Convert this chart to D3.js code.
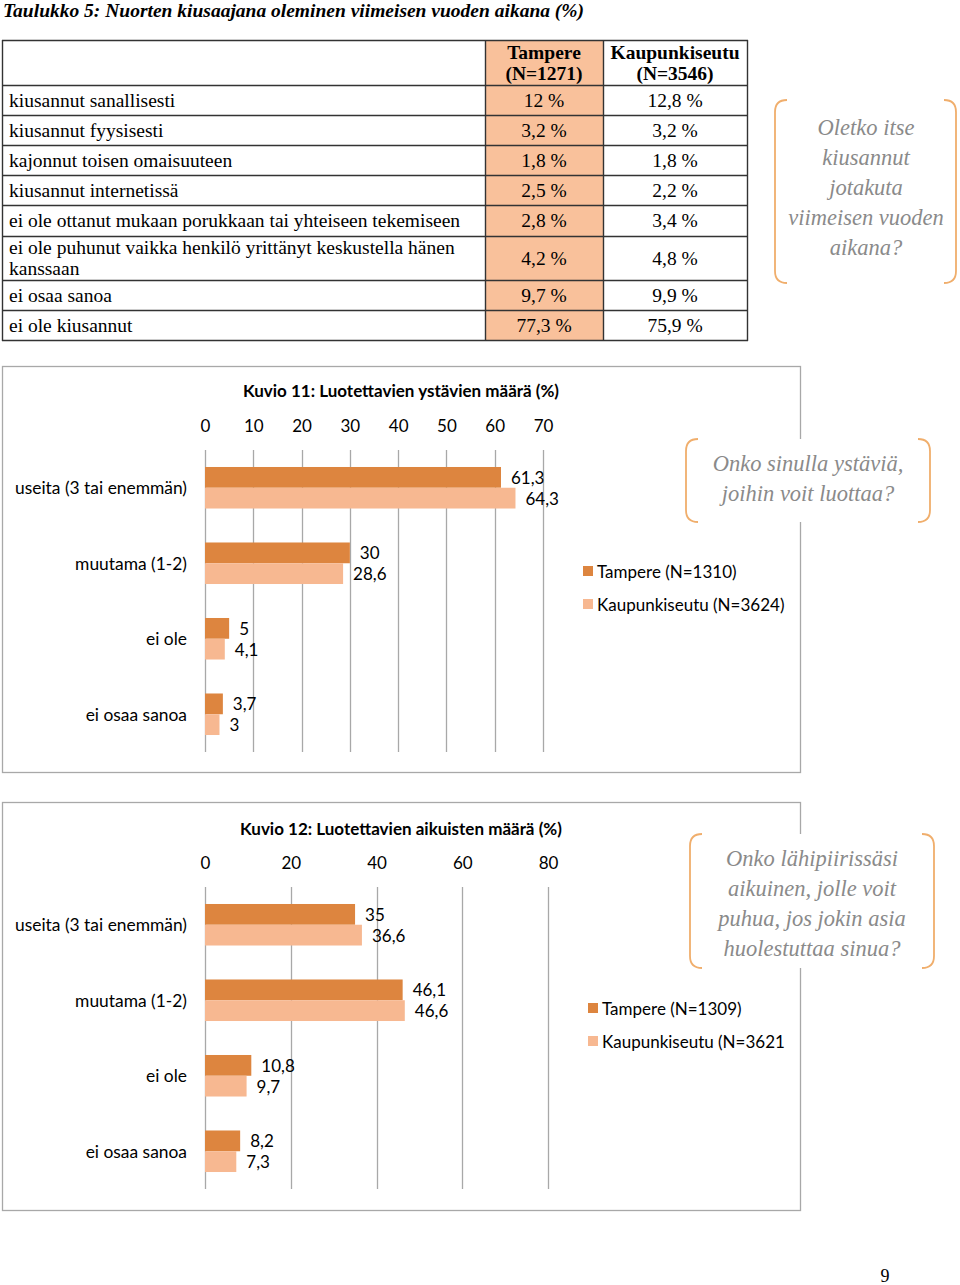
<!DOCTYPE html>
<html><head><meta charset="utf-8">
<script src="https://cdn.jsdelivr.net/npm/d3@7"></script>
<style>body{margin:0;background:#fff}svg{display:block}</style>
</head><body><svg id="c" width="960" height="1285"></svg>
<script>
// ---------- DATA ----------
const tableTitle = "Taulukko 5: Nuorten kiusaajana oleminen viimeisen vuoden aikana (%)";
const tableHeaders = [["Tampere", "(N=1271)"], ["Kaupunkiseutu", "(N=3546)"]];
const tableRows = [
  ["kiusannut sanallisesti"],
  ["kiusannut fyysisesti"],
  ["kajonnut toisen omaisuuteen"],
  ["kiusannut internetissä"],
  ["ei ole ottanut mukaan porukkaan tai yhteiseen tekemiseen"],
  ["ei ole puhunut vaikka henkilö yrittänyt keskustella hänen", "kanssaan"],
  ["ei osaa sanoa"],
  ["ei ole kiusannut"]
];
const tableTampere = ["12 %", "3,2 %", "1,8 %", "2,5 %", "2,8 %", "4,2 %", "9,7 %", "77,3 %"];
const tableKaupunkiseutu = ["12,8 %", "3,2 %", "1,8 %", "2,2 %", "3,4 %", "4,8 %", "9,9 %", "75,9 %"];
const callout1Lines = ["Oletko itse", "kiusannut", "jotakuta", "viimeisen vuoden", "aikana?"];

const chart1Title = "Kuvio 11: Luotettavien ystävien määrä (%)";
const chart1Categories = ["useita (3 tai enemmän)", "muutama (1-2)", "ei ole", "ei osaa sanoa"];
const chart1Tampere = [61.3, 30, 5, 3.7];
const chart1Kaupunkiseutu = [64.3, 28.6, 4.1, 3];
const chart1Ticks = [0, 10, 20, 30, 40, 50, 60, 70];
const chart1Legend = ["Tampere (N=1310)", "Kaupunkiseutu (N=3624)"];
const callout2Lines = ["Onko sinulla ystäviä,", "joihin voit luottaa?"];

const chart2Title = "Kuvio 12: Luotettavien aikuisten määrä (%)";
const chart2Categories = ["useita (3 tai enemmän)", "muutama (1-2)", "ei ole", "ei osaa sanoa"];
const chart2Tampere = [35, 46.1, 10.8, 8.2];
const chart2Kaupunkiseutu = [36.6, 46.6, 9.7, 7.3];
const chart2Ticks = [0, 20, 40, 60, 80];
const chart2Legend = ["Tampere (N=1309)", "Kaupunkiseutu (N=3621"];
const callout3Lines = ["Onko lähipiirissäsi", "aikuinen, jolle voit", "puhua, jos jokin asia", "huolestuttaa sinua?"];

const pageNumber = "9";

// ---------- STYLE ----------
const DARK = "#DD853F", LIGHT = "#F7B891", TABLE_FILL = "#F9C19B";
const BRACKET = "#F0AE6C", CALLOUT_TEXT = "#8A8A8A", GRID = "#A8A8A8";
const SERIF = "'Liberation Serif', 'Times New Roman', serif";
const SANS = "Lato, 'Open Sans', sans-serif";

const svg = d3.select("#c");
svg.append("rect").attr("width", 960).attr("height", 1285).attr("fill", "#fff");

// ---------- TABLE ----------
svg.append("text").attr("x", 3).attr("y", 17)
  .attr("font-family", SERIF).attr("font-style", "italic").attr("font-weight", "bold")
  .attr("font-size", 19.5).attr("fill", "#000").text(tableTitle);

const tX0 = 2, tX1 = 485, tX2 = 603, tX3 = 747;
const headerTop = 40, headerBottom = 85;
const rowHeights = tableRows.map(r => r.length > 1 ? 44 : 30);
rowHeights[4] = 31;
const rowEdges = [headerBottom];
rowHeights.forEach(h => rowEdges.push(rowEdges[rowEdges.length - 1] + h));
const tBottom = rowEdges[rowEdges.length - 1];
const TFS = 19.5;

const tg = svg.append("g");
tg.append("rect").attr("x", tX1).attr("y", headerTop).attr("width", tX2 - tX1).attr("height", tBottom - headerTop).attr("fill", TABLE_FILL);
[headerTop, ...rowEdges].forEach(y => {
  tg.append("line").attr("x1", tX0).attr("x2", tX3 + 1).attr("y1", y + 0.5).attr("y2", y + 0.5).attr("stroke", "#333").attr("stroke-width", 1.4);
});
[tX0, tX1, tX2, tX3].forEach(x => {
  tg.append("line").attr("x1", x + 0.5).attr("x2", x + 0.5).attr("y1", headerTop).attr("y2", tBottom + 1).attr("stroke", "#333").attr("stroke-width", 1.4);
});
const colCenters = [(tX1 + tX2) / 2, (tX2 + tX3) / 2];
tableHeaders.forEach((h, i) => {
  h.forEach((line, j) => {
    tg.append("text").attr("x", colCenters[i]).attr("y", 52 + j * 21).attr("text-anchor", "middle")
      .attr("dominant-baseline", "central").attr("font-family", SERIF).attr("font-weight", "bold")
      .attr("font-size", TFS).attr("fill", "#000").text(line);
  });
});
tableRows.forEach((r, i) => {
  const y0 = rowEdges[i], y1 = rowEdges[i + 1], cy = (y0 + y1) / 2;
  r.forEach((line, j) => {
    const ly = r.length > 1 ? y0 + 11 + j * 21 : cy;
    tg.append("text").attr("x", 9).attr("y", ly).attr("dominant-baseline", "central")
      .attr("font-family", SERIF).attr("font-size", TFS).attr("fill", "#000").text(line);
  });
  [tableTampere[i], tableKaupunkiseutu[i]].forEach((v, k) => {
    tg.append("text").attr("x", colCenters[k]).attr("y", cy).attr("text-anchor", "middle")
      .attr("dominant-baseline", "central").attr("font-family", SERIF).attr("font-size", TFS)
      .attr("fill", "#000").text(v);
  });
});

// ---------- CALLOUT ----------
function callout(x0, y0, x1, y1, lines, firstY, cx) {
  const g = svg.append("g");
  g.append("rect").attr("x", x0 - 2).attr("y", y0).attr("width", x1 - x0 + 4).attr("height", y1 - y0).attr("fill", "#fff");
  const r = 12;
  const left = `M${x0 + r},${y0} Q${x0},${y0} ${x0},${y0 + r} L${x0},${y1 - r} Q${x0},${y1} ${x0 + r},${y1}`;
  const right = `M${x1 - r},${y0} Q${x1},${y0} ${x1},${y0 + r} L${x1},${y1 - r} Q${x1},${y1} ${x1 - r},${y1}`;
  [left, right].forEach(d => g.append("path").attr("d", d).attr("fill", "none").attr("stroke", BRACKET).attr("stroke-width", 1.8));
  lines.forEach((l, i) => {
    g.append("text").attr("x", cx).attr("y", firstY + i * 30).attr("text-anchor", "middle")
      .attr("dominant-baseline", "central").attr("font-family", SERIF).attr("font-style", "italic")
      .attr("font-size", 22.5).attr("fill", CALLOUT_TEXT).text(l);
  });
}

// ---------- BAR CHART ----------
function barChart(cfg) {
  const g = svg.append("g");
  g.append("rect").attr("x", cfg.frame[0] + 0.5).attr("y", cfg.frame[1] + 0.5)
    .attr("width", cfg.frame[2] - cfg.frame[0]).attr("height", cfg.frame[3] - cfg.frame[1])
    .attr("fill", "#fff").attr("stroke", GRID).attr("stroke-width", 1.3);
  g.append("text").attr("x", 401).attr("y", cfg.titleY).attr("text-anchor", "middle")
    .attr("dominant-baseline", "central").attr("font-family", SANS).attr("font-weight", "bold")
    .attr("font-size", 17).attr("fill", "#000").text(cfg.title);

  const x = d3.scaleLinear().domain([cfg.ticks[0], cfg.ticks[cfg.ticks.length - 1]]).range(cfg.xRange);
  const y = d3.scaleBand().domain(cfg.categories).range(cfg.yRange).paddingInner(0.45).paddingOuter(0.225);
  const series = ["Tampere", "Kaupunkiseutu"];
  const ys = d3.scaleBand().domain(series).range([0, y.bandwidth()]);
  const colors = d3.scaleOrdinal().domain(series).range([DARK, LIGHT]);

  g.append("g").selectAll("line").data(cfg.ticks).join("line")
    .attr("x1", d => Math.round(x(d)) + 0.5).attr("x2", d => Math.round(x(d)) + 0.5)
    .attr("y1", cfg.yRange[0]).attr("y2", cfg.yRange[1]).attr("stroke", GRID).attr("stroke-width", 1.3);

  const axis = g.append("g").attr("transform", `translate(0,${cfg.tickY})`)
    .call(d3.axisTop(x).tickValues(cfg.ticks).tickSize(0).tickPadding(0));
  axis.select(".domain").remove();
  axis.selectAll("text").attr("font-family", SANS).attr("font-size", 17).attr("fill", "#000")
    .attr("dy", "0.35em");

  g.append("g").selectAll("text").data(cfg.categories).join("text")
    .attr("x", 187).attr("y", d => y(d) + y.bandwidth() / 2).attr("text-anchor", "end")
    .attr("dominant-baseline", "central").attr("font-family", SANS).attr("font-size", 17.4)
    .attr("fill", "#000").text(d => d);

  const rows = [];
  cfg.categories.forEach((c, i) => {
    rows.push({ c, s: "Tampere", v: cfg.tampere[i] });
    rows.push({ c, s: "Kaupunkiseutu", v: cfg.kaup[i] });
  });
  g.append("g").selectAll("rect").data(rows).join("rect")
    .attr("x", x(0)).attr("y", d => y(d.c) + ys(d.s)).attr("width", d => x(d.v) - x(0))
    .attr("height", ys.bandwidth()).attr("fill", d => colors(d.s));
  g.append("g").selectAll("text").data(rows).join("text")
    .attr("x", d => x(d.v) + 10).attr("y", d => y(d.c) + ys(d.s) + ys.bandwidth() / 2)
    .attr("dominant-baseline", "central").attr("font-family", SANS).attr("font-size", 17)
    .attr("fill", "#000").text(d => String(d.v).replace(".", ","));

  series.forEach((s, i) => {
    const ly = cfg.legendY[i];
    g.append("rect").attr("x", cfg.legendX).attr("y", ly - 5).attr("width", 10).attr("height", 10).attr("fill", colors(s));
    g.append("text").attr("x", cfg.legendX + 14).attr("y", ly).attr("dominant-baseline", "central")
      .attr("font-family", SANS).attr("font-size", 17).attr("fill", "#000").text(cfg.legend[i]);
  });
}

barChart({
  frame: [2, 366, 800, 772], title: chart1Title, titleY: 390, tickY: 426,
  ticks: chart1Ticks, xRange: [205, 543], yRange: [450, 752],
  categories: chart1Categories, tampere: chart1Tampere, kaup: chart1Kaupunkiseutu,
  legend: chart1Legend, legendX: 583, legendY: [571, 604]
});
barChart({
  frame: [2, 802, 800, 1210], title: chart2Title, titleY: 828, tickY: 863,
  ticks: chart2Ticks, xRange: [205, 548], yRange: [887, 1189],
  categories: chart2Categories, tampere: chart2Tampere, kaup: chart2Kaupunkiseutu,
  legend: chart2Legend, legendX: 588, legendY: [1008, 1041]
});

callout(775, 100, 956, 283, callout1Lines, 127, 866);
callout(686, 439, 930, 522, callout2Lines, 463, 808);
callout(690, 834, 934, 968, callout3Lines, 858, 812);

svg.append("text").attr("x", 885).attr("y", 1276).attr("text-anchor", "middle").attr("dominant-baseline", "central")
  .attr("font-family", SERIF).attr("font-size", 18).attr("fill", "#000").text(pageNumber);
</script></body></html>
